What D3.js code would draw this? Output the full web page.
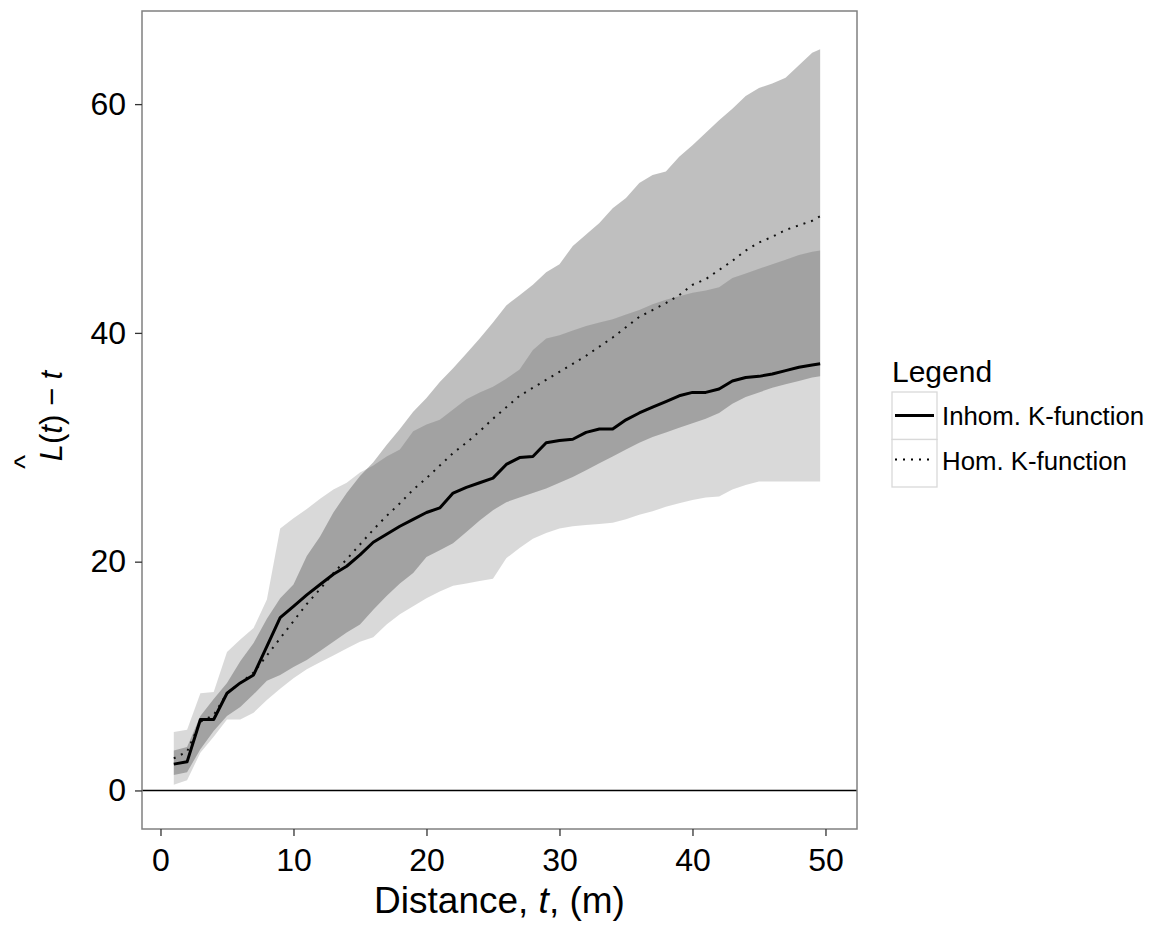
<!DOCTYPE html>
<html>
<head>
<meta charset="utf-8">
<script src="https://cdn.jsdelivr.net/npm/d3@7"></script>
<style>
  body { margin: 0; background: #fff; }
  text { font-family: "Liberation Sans", Arial, sans-serif; }
</style>
</head>
<body>
<svg id="chart" width="1152" height="925"></svg>
<script>

// distance t (m) and the estimated L(t) - t curves
var distance = [1, 2, 3, 4, 5, 6, 7, 8, 9, 10, 11, 12, 13, 14, 15, 16, 17, 18, 19, 20,
  21, 22, 23, 24, 25, 26, 27, 28, 29, 30, 31, 32, 33, 34, 35, 36, 37, 38, 39, 40,
  41, 42, 43, 44, 45, 46, 47, 48, 49, 49.6];

var inhomK = [2.3, 2.5, 6.2, 6.2, 8.5, 9.4, 10.1, 12.6, 15.1, 16.1,
  17.1, 18.0, 18.9, 19.6, 20.6, 21.7, 22.4, 23.1, 23.7, 24.3,
  24.7, 26.0, 26.5, 26.9, 27.3, 28.5, 29.1, 29.2, 30.4, 30.6,
  30.7, 31.3, 31.6, 31.6, 32.4, 33.0, 33.5, 34.0, 34.5, 34.8,
  34.8, 35.1, 35.8, 36.1, 36.2, 36.4, 36.7, 37.0, 37.2, 37.3];

var homK = [2.8, 3.4, 6.0, 6.6, 8.5, 9.4, 10.3, 11.8, 13.3, 14.8,
  16.3, 17.6, 19.0, 20.2, 21.5, 22.8, 24.0, 25.1, 26.3, 27.3,
  28.4, 29.5, 30.4, 31.4, 32.5, 33.5, 34.5, 35.2, 35.9, 36.6,
  37.3, 38.0, 38.8, 39.6, 40.5, 41.4, 42.0, 42.6, 43.3, 44.2,
  44.7, 45.5, 46.3, 47.2, 47.9, 48.4, 49.0, 49.4, 49.8, 50.2];

// simulation envelopes
var homLo = [1.35, 1.6, 3.6, 5.2, 6.5, 7.3, 8.4, 9.6, 10.1, 10.8,
  11.4, 12.2, 13.0, 13.8, 14.5, 15.8, 17.0, 18.1, 19.0, 20.4,
  21.0, 21.6, 22.6, 23.6, 24.5, 25.2, 25.6, 26.0, 26.4, 26.9,
  27.4, 28.0, 28.6, 29.2, 29.8, 30.4, 30.9, 31.3, 31.7, 32.1,
  32.5, 33.0, 33.8, 34.4, 34.8, 35.2, 35.5, 35.8, 36.1, 36.2];
var homHi = [3.5, 3.8, 6.5, 8.0, 9.4, 11.3, 12.9, 15.0, 16.8, 18.0,
  20.5, 22.2, 24.3, 26.0, 27.5, 28.7, 30.2, 31.6, 33.1, 34.3,
  35.7, 36.9, 38.2, 39.5, 40.9, 42.4, 43.3, 44.2, 45.3, 46.0,
  47.6, 48.6, 49.6, 50.9, 51.8, 53.1, 53.8, 54.1, 55.4, 56.4,
  57.5, 58.6, 59.6, 60.7, 61.4, 61.8, 62.3, 63.4, 64.5, 64.8];
var inhomLo = [0.5, 0.9, 3.3, 4.7, 6.2, 6.2, 6.8, 7.9, 8.9, 9.8,
  10.6, 11.2, 11.8, 12.4, 13.0, 13.4, 14.5, 15.4, 16.1, 16.8,
  17.4, 17.9, 18.1, 18.3, 18.5, 20.3, 21.2, 22.0, 22.5, 22.9,
  23.1, 23.2, 23.3, 23.4, 23.7, 24.1, 24.4, 24.8, 25.1, 25.4,
  25.6, 25.7, 26.3, 26.7, 27.0, 27.0, 27.0, 27.0, 27.0, 27.0];
var inhomHi = [5.1, 5.3, 8.5, 8.6, 12.1, 13.2, 14.2, 16.7, 22.9, 23.8,
  24.6, 25.5, 26.3, 26.9, 27.8, 28.4, 29.2, 29.8, 31.4, 32.0,
  32.4, 33.3, 34.2, 34.8, 35.3, 36.0, 36.8, 38.5, 39.5, 39.8,
  40.2, 40.6, 40.9, 41.2, 41.6, 42.0, 42.5, 42.9, 43.2, 43.5,
  43.7, 44.0, 44.8, 45.2, 45.6, 46.0, 46.4, 46.8, 47.1, 47.2];

var xTicks = [0, 10, 20, 30, 40, 50];
var yTicks = [0, 20, 40, 60];
var legendLabels = ["Inhom. K-function", "Hom. K-function"];

var panel = {left: 142, top: 11, right: 857, bottom: 829};
var svg = d3.select("#chart");

var x = d3.scaleLinear()
  .domain([-1.39, 52.37])
  .range([panel.left, panel.right]);
var y = d3.scaleLinear()
  .domain([-3.37, 68.14])
  .range([panel.bottom, panel.top]);

var rows = distance.map(function(d, i) {
  return {t: d, inhom: inhomK[i], hom: homK[i],
    hLo: homLo[i], hHi: homHi[i], iLo: inhomLo[i], iHi: inhomHi[i]};
});

// envelopes, drawn see-through so the overlap comes out darker
svg.append("path")
  .datum(rows)
  .attr("fill", "#000")
  .attr("fill-opacity", 0.25)
  .attr("d", d3.area().x(d => x(d.t)).y0(d => y(d.hLo)).y1(d => y(d.hHi)));
svg.append("path")
  .datum(rows)
  .attr("fill", "#000")
  .attr("fill-opacity", 0.15)
  .attr("d", d3.area().x(d => x(d.t)).y0(d => y(d.iLo)).y1(d => y(d.iHi)));

// reference line at zero
svg.append("line")
  .attr("x1", panel.left).attr("x2", panel.right)
  .attr("y1", y(0)).attr("y2", y(0))
  .attr("stroke", "#000")
  .attr("stroke-width", 1.5);

svg.append("path")
  .datum(rows)
  .attr("fill", "none")
  .attr("stroke", "#111")
  .attr("stroke-width", 2)
  .attr("stroke-dasharray", "2,6")
  .attr("d", d3.line().x(d => x(d.t)).y(d => y(d.hom)));

svg.append("path")
  .datum(rows)
  .attr("fill", "none")
  .attr("stroke", "#000")
  .attr("stroke-width", 3)
  .attr("stroke-linejoin", "round")
  .attr("d", d3.line().x(d => x(d.t)).y(d => y(d.inhom)));

// panel border
svg.append("rect")
  .attr("x", panel.left).attr("y", panel.top)
  .attr("width", panel.right - panel.left)
  .attr("height", panel.bottom - panel.top)
  .attr("fill", "none")
  .attr("stroke", "#808080")
  .attr("stroke-width", 1.5);

// axes
var xAxis = svg.append("g")
  .attr("transform", "translate(0," + panel.bottom + ")")
  .call(d3.axisBottom(x).tickValues(xTicks).tickSize(7).tickPadding(12));
var yAxis = svg.append("g")
  .attr("transform", "translate(" + panel.left + ",0)")
  .call(d3.axisLeft(y).tickValues(yTicks).tickSize(7).tickPadding(9));

[xAxis, yAxis].forEach(function(g) {
  g.select(".domain").remove();
  g.selectAll(".tick line").attr("stroke", "#333").attr("stroke-width", 1.3);
  g.selectAll(".tick text")
    .attr("fill", "#000")
    .style("font-size", "32px")
    .style("font-family", "Liberation Sans, Arial, sans-serif");
});

// axis titles
var xTitle = svg.append("text")
  .attr("x", (panel.left + panel.right) / 2)
  .attr("y", 913)
  .attr("text-anchor", "middle")
  .style("font-size", "37px");
xTitle.append("tspan").text("Distance, ");
xTitle.append("tspan").style("font-style", "italic").text("t");
xTitle.append("tspan").text(", (m)");

var yTitle = svg.append("g")
  .attr("transform", "translate(62,416) rotate(-90)");
var yText = yTitle.append("text")
  .attr("text-anchor", "middle")
  .style("font-size", "31px");
yText.append("tspan").style("font-style", "italic").text("L");
yText.append("tspan").text("(");
yText.append("tspan").style("font-style", "italic").text("t");
yText.append("tspan").text(") \u2212 ");
yText.append("tspan").style("font-style", "italic").text("t");
yTitle.append("text")
  .attr("x", -46)
  .attr("y", -27)
  .attr("text-anchor", "middle")
  .style("font-size", "30px")
  .text("^");

// legend
var legend = svg.append("g").attr("transform", "translate(892,0)");
legend.append("text")
  .attr("x", 0).attr("y", 382)
  .style("font-size", "30px")
  .text("Legend");

var keys = legend.selectAll(".key")
  .data(legendLabels)
  .enter().append("g")
    .attr("class", "key")
    .attr("transform", (d, i) => "translate(0," + (392 + i * 47.5) + ")");

keys.append("rect")
  .attr("width", 45).attr("height", 47.5)
  .attr("fill", "#fff")
  .attr("stroke", "#d9d9d9")
  .attr("stroke-width", 1.3);
keys.append("line")
  .attr("x1", 3).attr("x2", 42)
  .attr("y1", (d, i) => i == 0 ? 23.5 : 20)
  .attr("y2", (d, i) => i == 0 ? 23.5 : 20)
  .attr("stroke", "#000")
  .attr("stroke-width", (d, i) => i == 0 ? 3 : 2)
  .attr("stroke-dasharray", (d, i) => i == 0 ? null : "2,6");
keys.append("text")
  .attr("x", 50).attr("y", (d, i) => i == 0 ? 33 : 30)
  .style("font-size", "25.8px")
  .text(d => d);

</script>
</body>
</html>
